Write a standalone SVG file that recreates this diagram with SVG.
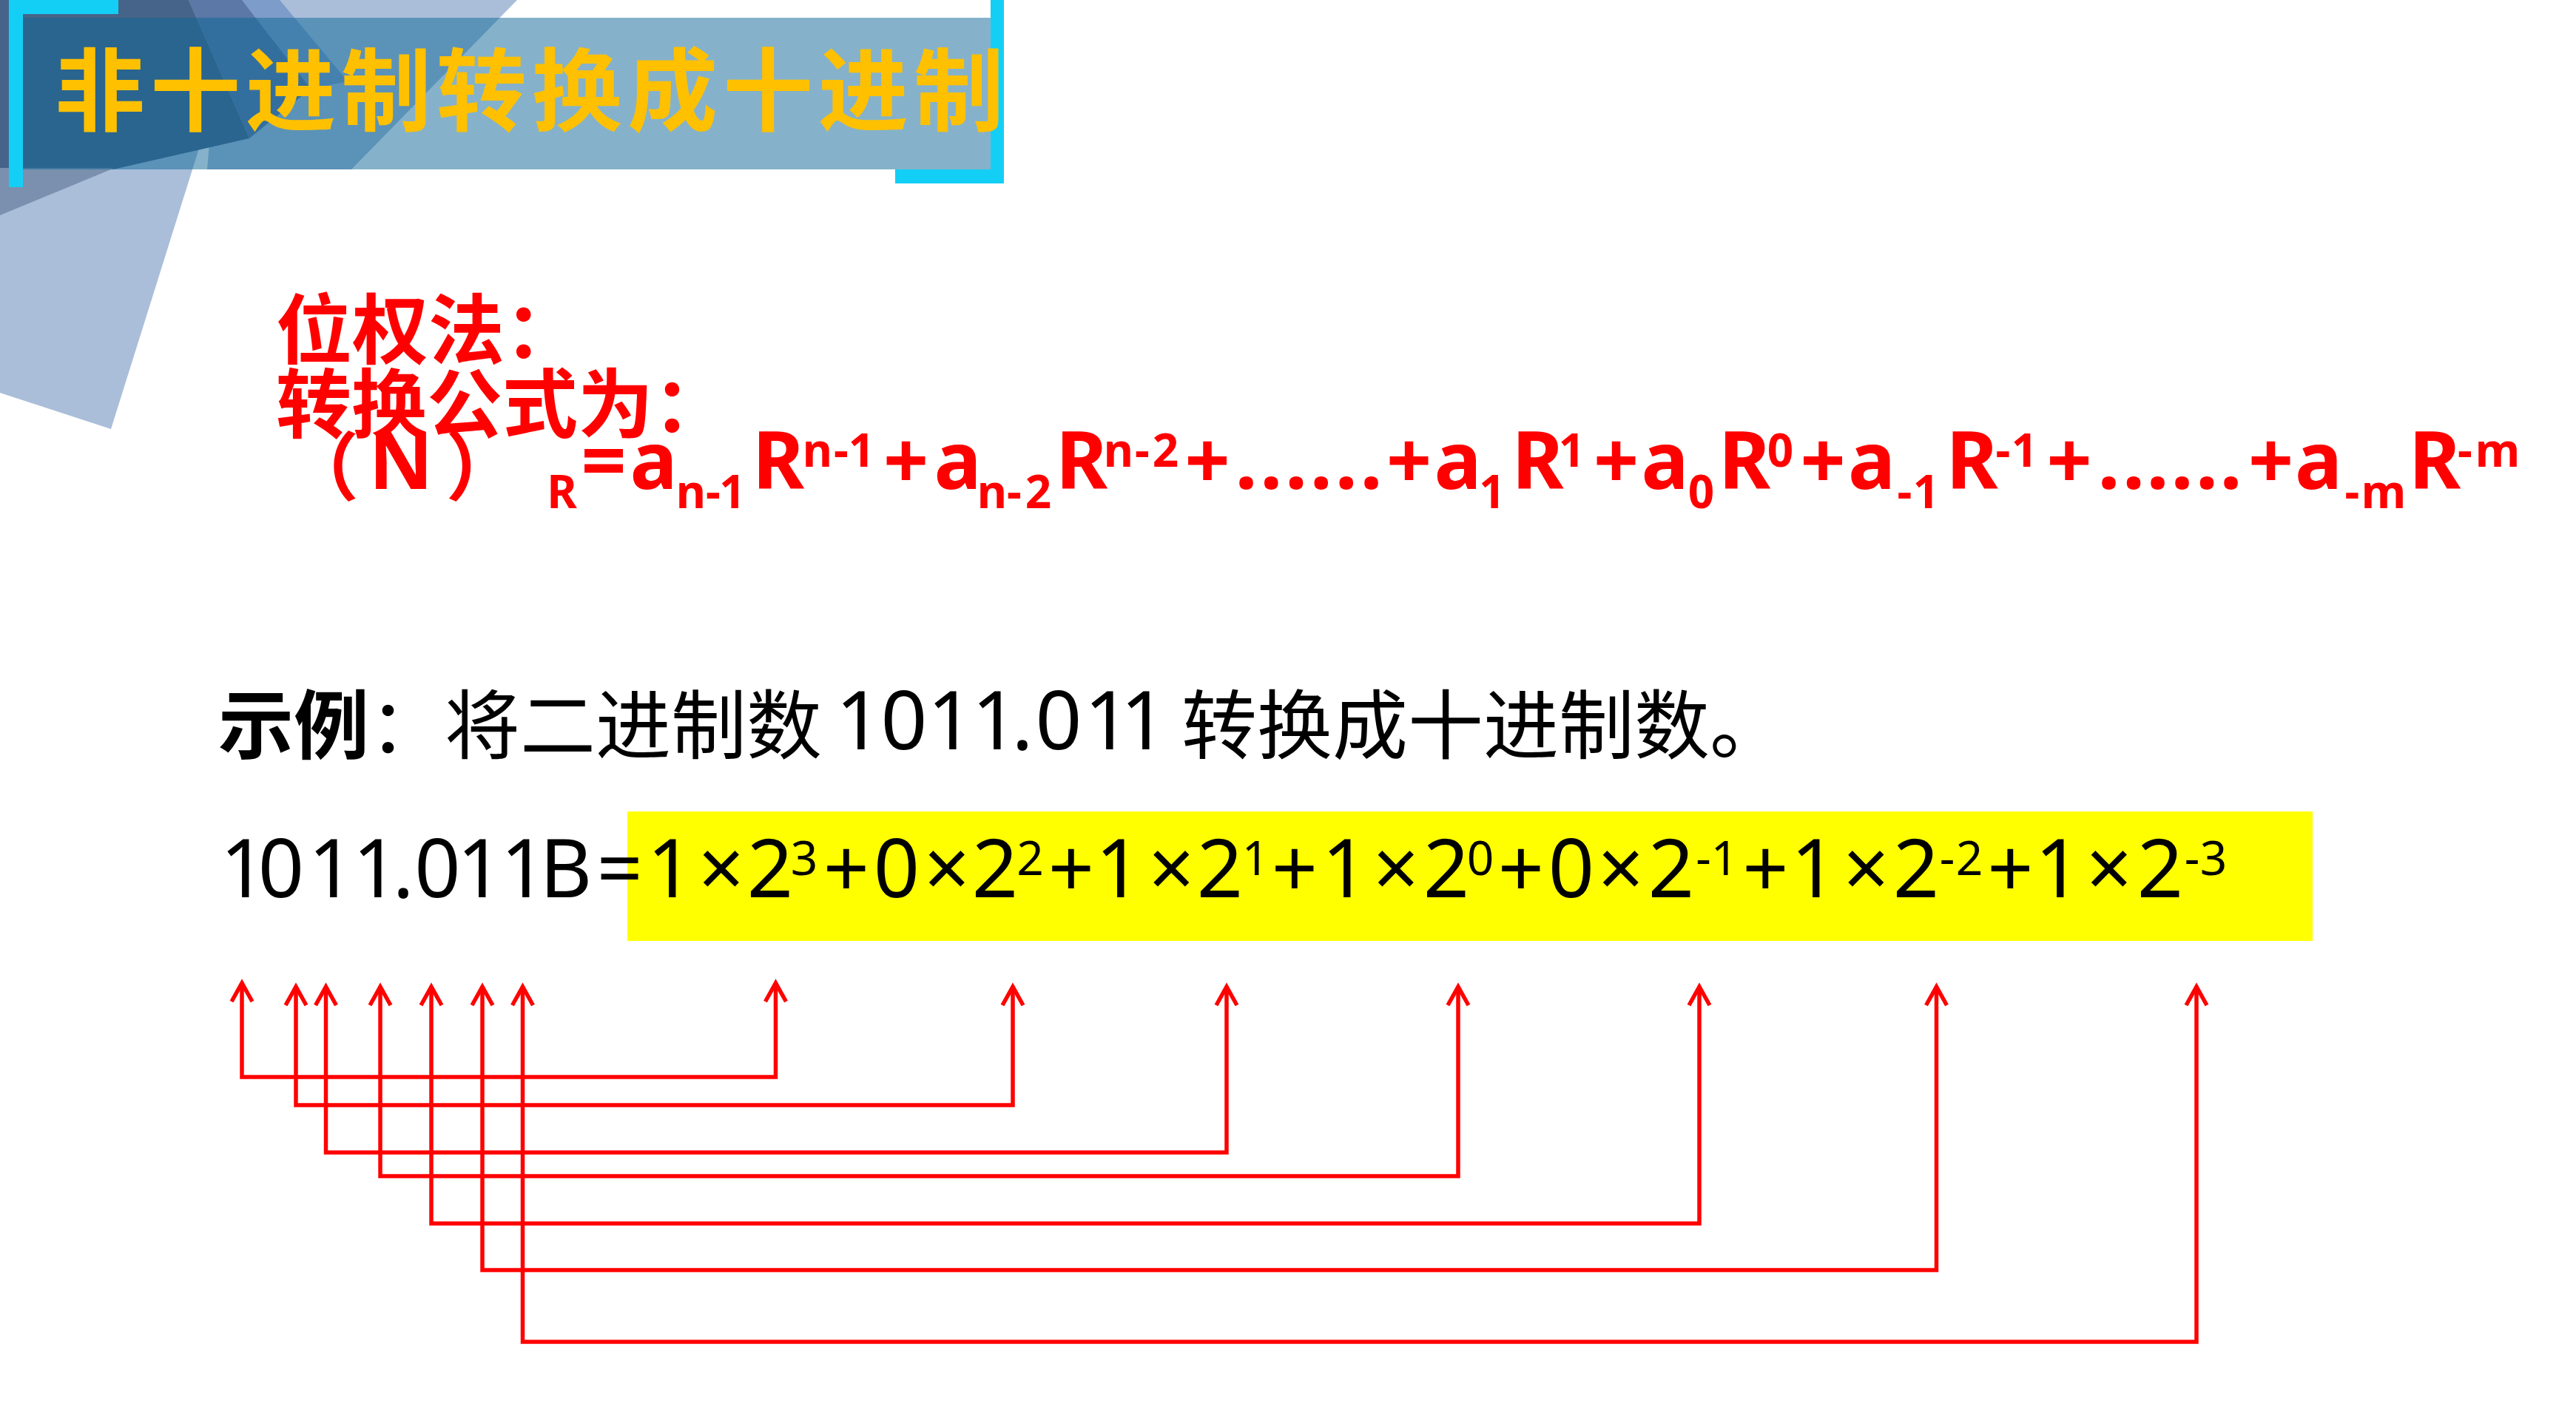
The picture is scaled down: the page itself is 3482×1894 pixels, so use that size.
<svg xmlns="http://www.w3.org/2000/svg" width="3482" height="1894" viewBox="0 0 3482 1894">
<style>
.cjk{font-family:"Noto Sans CJK SC","Noto Sans",sans-serif}
.lat{font-family:"Noto Sans","Open Sans","Noto Sans CJK SC",sans-serif}
.red{fill:#FF0000;font-weight:bold}
.blk{fill:#000000}
.mid{text-anchor:middle}
.conn{fill:none;stroke:#FF0000;stroke-width:5.5;stroke-linejoin:miter;marker-start:url(#chev);marker-end:url(#chev)}
</style>
<defs>
<marker id="chev" markerUnits="userSpaceOnUse" viewBox="-30 -20 40 40" refX="0" refY="0" markerWidth="40" markerHeight="40" orient="auto-start-reverse" overflow="visible">
<path d="M -25,-14 L 0,0 L -25,14" fill="none" stroke="#FF0000" stroke-width="5.5" stroke-linejoin="miter"/>
</marker>
</defs>
<rect x="0" y="0" width="3482" height="1894" fill="#FFFFFF"/>
<g id="background">
<polygon points="0,0 332,0 150,580 0,531" fill="#AABEDA"/>
<polygon points="300,0 699,0 475,229 280,229" fill="#AABEDA"/>
<polygon points="327,0 378,0 470,110 420,120" fill="#7E9CC9"/>
<polygon points="255,0 327,0 420,120 337,187" fill="#5B78A6"/>
<polygon points="0,0 255,0 337,187 153,229 0,229" fill="#466489"/>
<polygon points="0,227 155,227 0,291" fill="#7A90AE"/>
</g>
<g id="title">
<rect x="12" y="24" width="1327" height="205" fill="rgb(12,101,150)" fill-opacity="0.5"/>
<rect x="12" y="0" width="148" height="19" fill="#13CFF5"/>
<rect x="12" y="0" width="19" height="253" fill="#13CFF5"/>
<rect x="1339" y="0" width="18" height="248" fill="#13CFF5"/>
<rect x="1210" y="229" width="147" height="19" fill="#13CFF5"/>
<text class="cjk" x="74" y="167" font-size="122" font-weight="bold" letter-spacing="7" fill="#FFC000">非十进制转换成十进制</text>
</g>
<g id="method">
<text class="cjk red" x="373" y="484" font-size="103">位权法：</text>
<text class="cjk red" x="373" y="584" font-size="102">转换公式为：</text>
</g>
<g id="formula">
<text class="lat red mid" font-size="107" y="661"><tspan class="cjk" font-size="100" x="435" y="668">（</tspan><tspan x="542" y="661">N</tspan><tspan class="cjk" font-size="100" x="652.5" y="668">）</tspan><tspan font-size="62" x="759.5" y="687">R</tspan><tspan x="816 883.5" y="661">=a</tspan><tspan font-size="62" x="934 964 990" y="687">n-1</tspan><tspan x="1052" y="661">R</tspan><tspan font-size="62" x="1105 1137 1164.5" y="631">n-1</tspan><tspan x="1224.5 1294.5" y="661">+a</tspan><tspan font-size="62" x="1341 1371 1403.5" y="687">n-2</tspan><tspan x="1462" y="661">R</tspan><tspan font-size="62" x="1512 1544 1575.5" y="631">n-2</tspan><tspan x="1632 1684.5 1718.3 1752.1 1785.9 1819.7 1853.5 1904.5 1970.5" y="661">+......+a</tspan><tspan font-size="62" x="2017" y="687">1</tspan><tspan x="2078.5" y="661">R</tspan><tspan font-size="62" x="2124.5" y="631">1</tspan><tspan x="2184.5 2250.5" y="661">+a</tspan><tspan font-size="62" x="2299.5" y="687">0</tspan><tspan x="2358" y="661">R</tspan><tspan font-size="62" x="2406.5" y="631">0</tspan><tspan x="2464 2530" y="661">+a</tspan><tspan font-size="62" x="2574.5 2603.5" y="687">-1</tspan><tspan x="2665.5" y="661">R</tspan><tspan font-size="62" x="2707.5 2736.5" y="631">-1</tspan><tspan x="2797 2850.5 2884 2916.5 2949.5 2983 3015.5 3069.5 3134" y="661">+......+a</tspan><tspan font-size="62" x="3179.5 3222" y="687">-m</tspan><tspan x="3291" y="661">R</tspan><tspan font-size="62" x="3332 3376" y="631">-m</tspan></text>
</g>
<g id="example">
<text class="cjk blk" x="295" y="1018" font-size="102"><tspan font-weight="bold">示例</tspan>：将二进制数</text>
<text class="lat blk mid" y="1013" font-size="110" x="1161 1222 1285 1345 1382 1431 1497 1546">1011.011</text>
<text class="cjk blk" x="1597" y="1018" font-size="102">转换成十进制数。</text>
</g>
<g id="highlight">
<rect x="848" y="1097" width="2278" height="175" fill="#FFFF00"/>
</g>
<g id="expansion">
<text class="lat blk mid" font-size="109" y="1213"><tspan x="329 380 448 508 545 591.5 649 708 765 837.6 906 975 1041" y="1213">1011.011B=1×2</tspan><tspan font-size="64" x="1087" y="1183">3</tspan><tspan x="1144 1212 1280 1345" y="1213">+0×2</tspan><tspan font-size="64" x="1392.5" y="1183">2</tspan><tspan x="1448 1512 1583.5 1649" y="1213">+1×2</tspan><tspan font-size="64" x="1697" y="1183">1</tspan><tspan x="1750 1818 1887 1955" y="1213">+1×2</tspan><tspan font-size="64" x="2001" y="1183">0</tspan><tspan x="2056 2124 2191 2259" y="1213">+0×2</tspan><tspan font-size="64" x="2302.5 2331" y="1183">-1</tspan><tspan x="2386.5 2452 2522.5 2590" y="1213">+1×2</tspan><tspan font-size="64" x="2632 2662" y="1183">-2</tspan><tspan x="2717.5 2782 2851 2920" y="1213">+1×2</tspan><tspan font-size="64" x="2963 2992" y="1183">-3</tspan></text>
</g>
<g id="connectors">
<path class="conn" d="M 327,1329 V 1456 H 1048.5 V 1329"/>
<path class="conn" d="M 400,1334 V 1494 H 1369 V 1334"/>
<path class="conn" d="M 440.5,1334 V 1558 H 1658 V 1334"/>
<path class="conn" d="M 514,1334 V 1590 H 1971 V 1334"/>
<path class="conn" d="M 583,1334 V 1654 H 2297 V 1334"/>
<path class="conn" d="M 652,1334 V 1717 H 2617.5 V 1334"/>
<path class="conn" d="M 706.5,1334 V 1814 H 2969 V 1334"/>
</g>
</svg>
